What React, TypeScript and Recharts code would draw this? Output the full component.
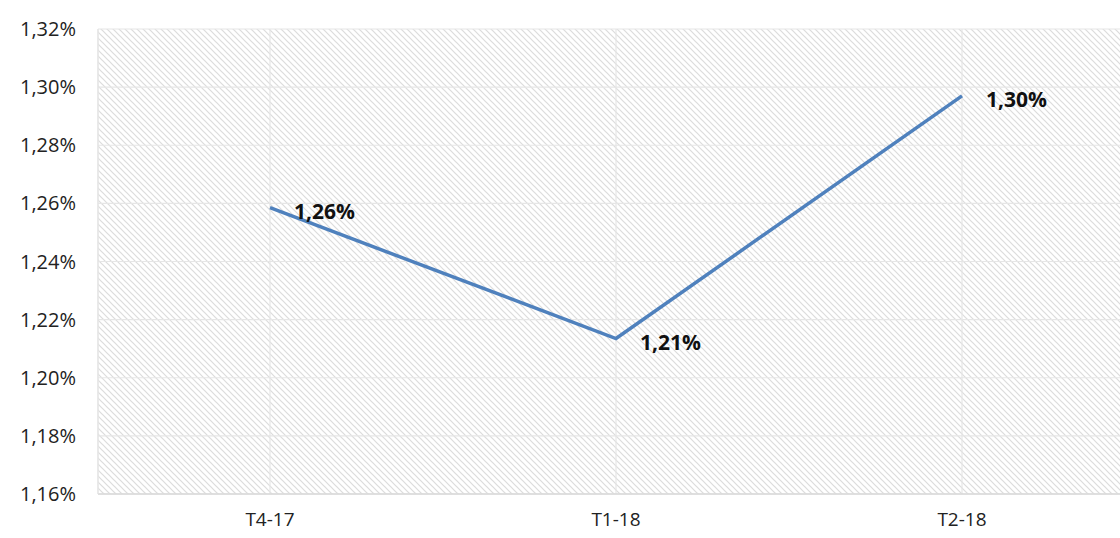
import React from "react";
import { LineChart, Line, XAxis, YAxis, CartesianGrid, LabelList } from "recharts";

const categories = ["T4-17", "T1-18", "T2-18"];
const values = [1.2585, 1.2135, 1.297];
const valueLabels = ["1,26%", "1,21%", "1,30%"];
const yTicks = [1.16, 1.18, 1.2, 1.22, 1.24, 1.26, 1.28, 1.3, 1.32];

const data = categories.map((c, i) => ({ name: c, value: values[i], label: valueLabels[i] }));

const FONT = "'Open Sans', 'DejaVu Sans', sans-serif";

const fmt = (v: number) => v.toFixed(2).replace(".", ",") + "%";

const renderLabel = (props: any) => {
  const { x, y, index } = props;
  return (
    <text
      x={x + 24}
      y={y + 3}
      dominantBaseline="central"
      fontFamily={FONT}
      fontSize={21}
      fontWeight={700}
      fill="#111"
    >
      {valueLabels[index]}
    </text>
  );
};

export default function App() {
  return (
    <div style={{ position: "absolute", left: 0, top: 0, width: 1120, height: 538, overflow: "hidden", background: "#fff" }}>
      <LineChart
        width={1140}
        height={538}
        data={data}
        margin={{ top: 29, right: 6, bottom: 0, left: 0 }}
      >
        <defs>
          <pattern id="hatch" patternUnits="userSpaceOnUse" width="6" height="6">
            <rect width="6" height="6" fill="#ffffff" />
            <path d="M-1,-1 L7,7 M-1,5 L1,7 M5,-1 L7,1" stroke="#dcdcdc" strokeWidth="1.2" />
          </pattern>
        </defs>
        <CartesianGrid fill="url(#hatch)" stroke="#e6e6e6" strokeWidth={1.2} />
        <XAxis
          dataKey="name"
          scale="point"
          padding={{ left: 172, right: 172 }}
          axisLine={{ stroke: "#d9d9d9", strokeWidth: 1.5 }}
          tickLine={false}
          tickSize={0}
          tickMargin={19}
          height={44}
          tick={{ fontFamily: FONT, fontSize: 19, fill: "#222" }}
        />
        <YAxis
          domain={[1.16, 1.32]}
          ticks={yTicks}
          interval={0}
          tickFormatter={fmt}
          width={98}
          axisLine={{ stroke: "#e3e3e3" }}
          tickLine={false}
          tickSize={0}
          tickMargin={22}
          tick={{ fontFamily: FONT, fontSize: 20, fill: "#222" }}
          allowDataOverflow
        />
        <Line
          type="linear"
          dataKey="value"
          stroke="#4f81bd"
          strokeWidth={3.5}
          dot={false}
          isAnimationActive={false}
        >
          <LabelList dataKey="label" content={renderLabel} />
        </Line>
      </LineChart>
    </div>
  );
}
